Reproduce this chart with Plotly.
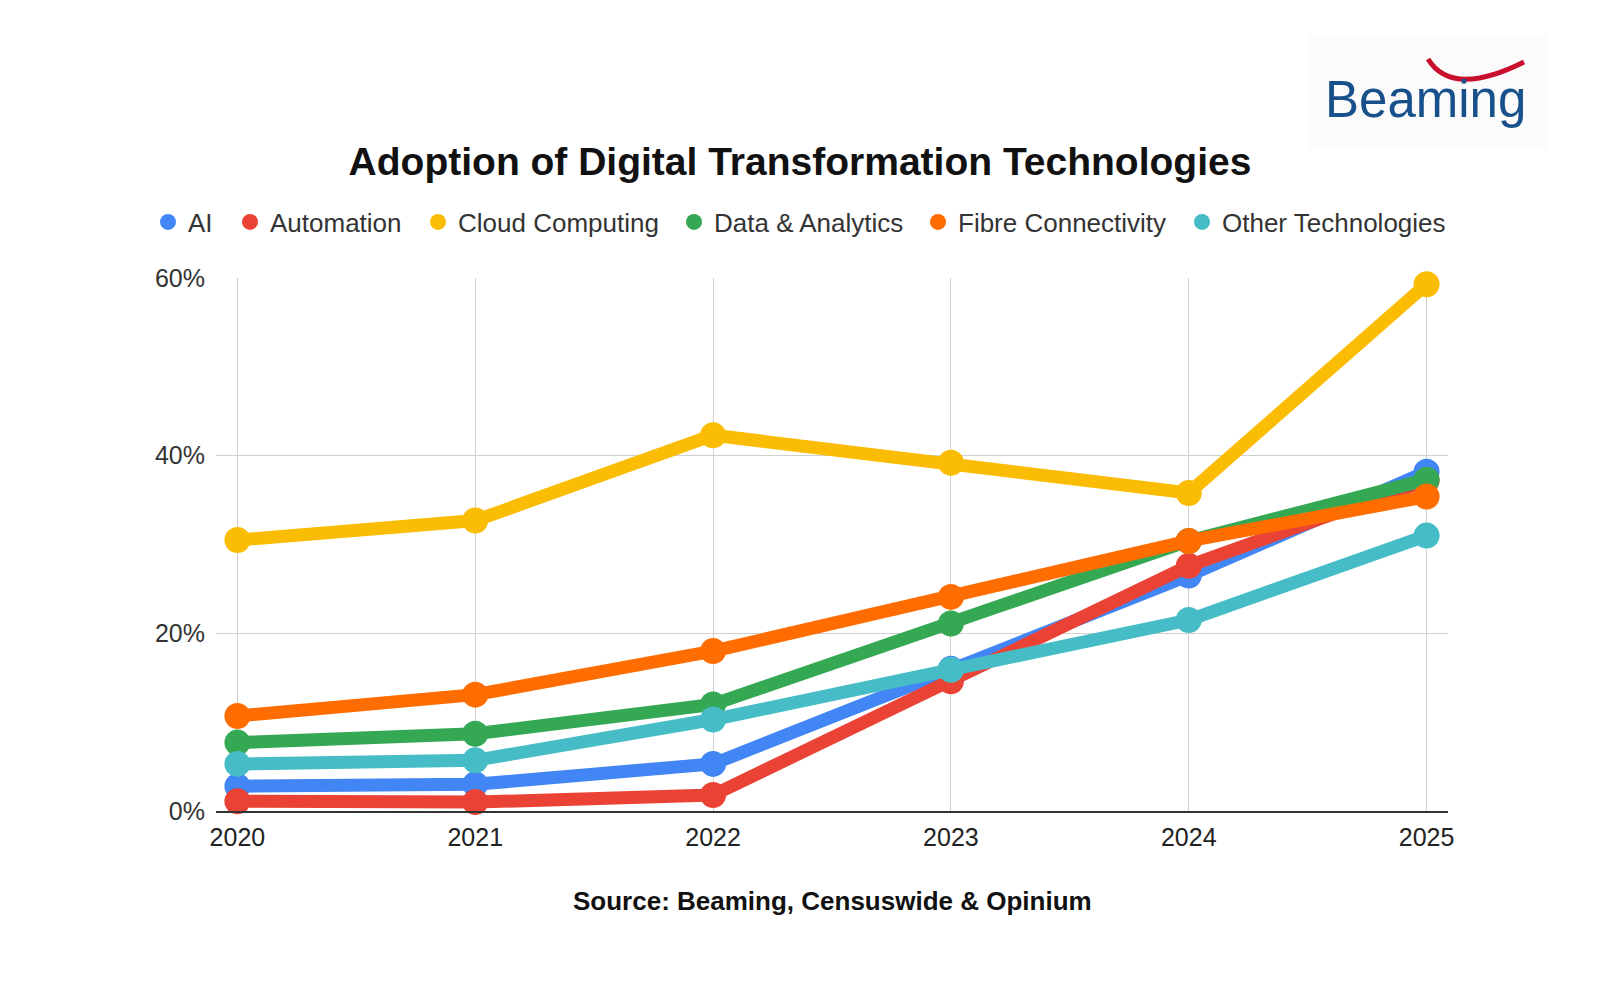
import plotly.graph_objects as go

# Données
years = [2020, 2021, 2022, 2023, 2024, 2025]
series_names = ["AI", "Automation", "Cloud Computing", "Data & Analytics",
                "Fibre Connectivity", "Other Technologies"]
ai = [2.8, 3.0, 5.3, 16.0, 26.5, 38.2]
automation = [1.1, 1.0, 1.8, 14.6, 27.6, 37.2]
cloud = [30.5, 32.7, 42.3, 39.2, 35.8, 59.3]
data_analytics = [7.7, 8.7, 12.0, 21.1, 30.4, 37.3]
fibre = [10.7, 13.1, 18.0, 24.1, 30.4, 35.4]
other = [5.3, 5.7, 10.3, 15.9, 21.5, 31.0]
y_ticks = [0, 20, 40, 60]
y_tick_labels = ["0%", "20%", "40%", "60%"]

colors = ["#4285F4", "#EA4335", "#FBBC04", "#34A853", "#FF6D01", "#46BDC6"]
values = [ai, automation, cloud, data_analytics, fibre, other]

W, H = 1600, 981
L, R, T, B = 208, 1440, 270, 803
FONT = "Liberation Sans, Arial, sans-serif"

# position (px) du cercle de chaque entrée de légende
legend_px = [160, 242, 430, 686, 930, 1194]


def px_x(x):
    return (x - L) / (R - L)


def px_y(y):
    return (B - y) / (B - T)


fig = go.Figure()

for name, vals, col in zip(series_names, values, colors):
    fig.add_trace(go.Scatter(
        x=years, y=vals, name=name, mode="lines+markers",
        line=dict(color=col, width=13),
        marker=dict(color=col, size=26),
        cliponaxis=False, showlegend=False,
    ))

# Entrées de légende (cercles seuls), une légende par série
legend_layout = {}
for i, (name, col) in enumerate(zip(series_names, colors)):
    lid = "legend" if i == 0 else "legend{}".format(i + 1)
    fig.add_trace(go.Scatter(
        x=[None], y=[None], name=name, mode="markers",
        marker=dict(color=col, size=18), showlegend=True, legend=lid,
    ))
    legend_layout[lid] = dict(
        orientation="h", x=px_x(legend_px[i] - 20), xanchor="left",
        y=px_y(214), yanchor="middle", bgcolor="rgba(0,0,0,0)",
        font=dict(size=26, color="#333333", family=FONT), itemwidth=30,
    )

fig.update_layout(
    width=W, height=H,
    margin=dict(l=L, r=W - R, t=T, b=H - B),
    paper_bgcolor="white", plot_bgcolor="white",
    font=dict(family=FONT, color="#222222"),
    title=dict(text="<b>Adoption of Digital Transformation Technologies</b>",
               x=(792 / W), xanchor="center", y=1 - 153 / H, yanchor="middle",
               font=dict(size=39, color="#111111", family=FONT)),
    **legend_layout,
)

fig.update_xaxes(
    range=[2019.91, 2025.09], tickvals=years,
    showgrid=True, gridcolor="#d0d0d0", gridwidth=1,
    showline=True, linecolor="#333333", linewidth=2,
    zeroline=False, ticks="", ticklabelstandoff=3,
    tickfont=dict(size=25, color="#222222"),
)
fig.update_yaxes(
    range=[0, 60], tickvals=y_ticks, ticktext=y_tick_labels,
    showgrid=True, gridcolor="#d0d0d0", gridwidth=1,
    zeroline=False, ticks="", ticklabelstandoff=10,
    tickfont=dict(size=25, color="#333333"),
)

# Source
fig.add_annotation(
    text="<b>Source: Beaming, Censuswide & Opinium</b>",
    xref="paper", yref="paper", x=px_x(824), y=px_y(893),
    xanchor="center", yanchor="middle",
    showarrow=False, font=dict(size=26, color="#111111", family=FONT),
)

# Logo Beaming
fig.add_shape(type="rect", xref="paper", yref="paper",
              x0=px_x(1301), x1=px_x(1539), y0=px_y(140), y1=px_y(28),
              fillcolor="#fbfbfb", line=dict(width=0), layer="below")
fig.add_annotation(
    text="Beaming", xref="paper", yref="paper",
    x=px_x(1417), y=px_y(91), xanchor="center", yanchor="middle",
    showarrow=False, font=dict(size=51, color="#17508a", family=FONT),
)
swoosh = "M {} {} Q {} {} {} {}".format(
    px_x(1420), px_y(51), px_x(1444), px_y(90), px_x(1516), px_y(54))
fig.add_shape(type="path", path=swoosh, xref="paper", yref="paper",
              line=dict(color="#c8102e", width=5))

fig.write_html("out.html")
